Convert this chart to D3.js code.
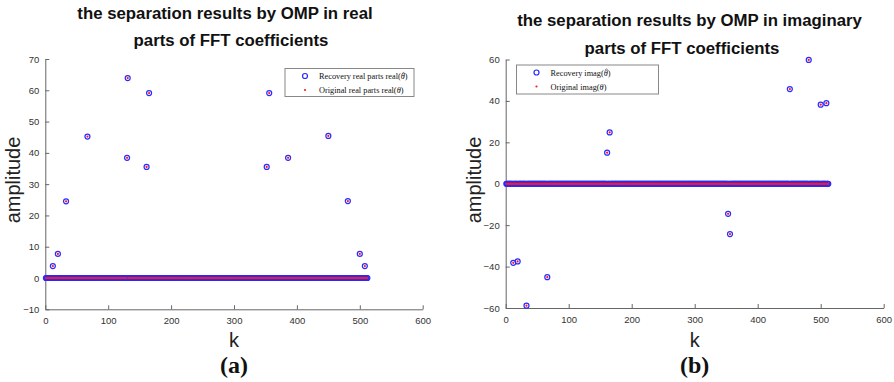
<!DOCTYPE html>
<meta charset="utf-8">
<style>
body { margin: 0; background: #fff; }
.tick text { font-family: "Liberation Sans Narrow", "Liberation Sans", Arial, sans-serif; font-size: 9.5px; fill: #333; }
.domain, .tick line { stroke: #666; }
.title { font-family: "Liberation Sans", Arial, sans-serif; font-weight: bold; font-size: 16.8px; fill: #111; }
.alabel { font-family: "Liberation Sans", Arial, sans-serif; font-size: 20px; fill: #222; }
.panel { font-family: "Liberation Serif", "Times New Roman", serif; font-weight: bold; font-size: 24px; fill: #111; }
.legend text { font-family: "Liberation Serif", "Times New Roman", serif; font-size: 8.3px; fill: #111; }
</style>
<body>
<script src="https://cdn.jsdelivr.net/npm/d3@7"></script>
<script>
var N = 512;

// nonzero FFT coefficients (k, value)
var realK = [12, 20, 33, 67, 130, 131, 161, 165, 352, 356, 386, 450, 481, 500, 508];
var realV = [3.8, 7.7, 24.5, 45.2, 38.4, 63.9, 35.5, 59.1, 35.5, 59.1, 38.4, 45.4, 24.6, 7.7, 3.8];
var imagK = [12, 19, 33, 66, 161, 165, 353, 356, 451, 481, 500, 509];
var imagV = [-38.2, -37.5, -58.9, -45.1, 15.0, 24.8, -14.5, -24.3, 45.7, 59.8, 38.2, 38.9];

var xTicks = [0, 100, 200, 300, 400, 500, 600];
var realYTicks = [-10, 0, 10, 20, 30, 40, 50, 60, 70];
var imagYTicks = [-60, -40, -20, 0, 20, 40, 60];

function fullSeries(ks, vs) {
  var s = d3.range(1, N + 1).map(function(k) { return {k: k, v: 0}; });
  ks.forEach(function(k, i) { s[k - 1].v = vs[i]; });
  return s;
}

var svg = d3.select("body").append("svg")
  .attr("width", 894)
  .attr("height", 382);

function panel(opt) {
  var x = d3.scaleLinear().domain([0, 600]).range([opt.left, opt.right]);
  var y = d3.scaleLinear().domain(opt.yDomain).range([opt.bottom, opt.top]);
  var g = svg.append("g");

  g.append("g")
    .attr("transform", "translate(0," + opt.bottom + ")")
    .call(d3.axisBottom(x).tickValues(xTicks).tickSizeInner(-4).tickSizeOuter(0).tickPadding(8));
  g.append("g")
    .attr("transform", "translate(" + opt.left + ",0)")
    .call(d3.axisLeft(y).tickValues(opt.yTicks).tickSizeInner(-4).tickSizeOuter(0).tickPadding(6));

  var data = fullSeries(opt.ks, opt.vs);

  g.append("g").selectAll("circle")
    .data(data)
    .join("circle")
    .attr("cx", function(d) { return x(d.k); })
    .attr("cy", function(d) { return y(d.v); })
    .attr("r", 2.5)
    .attr("fill", "none")
    .attr("stroke", "#2a2aff")
    .attr("stroke-width", 1.2);

  g.append("g").selectAll("circle")
    .data(data)
    .join("circle")
    .attr("cx", function(d) { return x(d.k); })
    .attr("cy", function(d) { return y(d.v); })
    .attr("r", 1.1)
    .attr("fill", "#ff1a1a");

  // legend
  var lg = g.append("g").attr("class", "legend");
  lg.append("rect")
    .attr("x", opt.leg[0]).attr("y", opt.leg[1])
    .attr("width", opt.leg[2]).attr("height", opt.leg[3])
    .attr("fill", "#fff").attr("stroke", "#888").attr("stroke-width", 1);
  var mx = opt.leg[0] + 20, tx = opt.leg[0] + 34;
  var r1 = opt.leg[1] + 7.5, r2 = opt.leg[1] + 21.5;
  lg.append("circle").attr("cx", mx).attr("cy", r1).attr("r", 2.5)
    .attr("fill", "none").attr("stroke", "#2a2aff").attr("stroke-width", 1.2);
  lg.append("circle").attr("cx", mx).attr("cy", r2).attr("r", 1.1).attr("fill", "#ff1a1a");

  [[opt.legText[0], r1, true], [opt.legText[1], r2, false]].forEach(function(row) {
    var t = lg.append("text").attr("x", tx).attr("y", row[1] + 3);
    t.append("tspan").text(row[0] + "(");
    t.append("tspan").attr("font-style", "italic").text("\u03b8");
    t.append("tspan").text(")");
    if (row[2]) {
      // hat over theta, drawn as a small stroke
      var i = row[0].length + 1;
      var p0 = t.node().getStartPositionOfChar(i);
      var p1 = t.node().getEndPositionOfChar(i);
      var hx = (p0.x + p1.x) / 2 + 0.7, hy = row[1] - 3.6;
      lg.append("path")
        .attr("d", "M" + (hx - 1.4) + "," + (hy + 1.2) + "L" + hx + "," + hy + "L" + (hx + 1.4) + "," + (hy + 1.2))
        .attr("fill", "none").attr("stroke", "#111").attr("stroke-width", 0.6);
    }
  });

  // titles and labels
  opt.title.forEach(function(t) {
    g.append("text").attr("class", "title")
      .attr("x", t[1]).attr("y", t[2]).attr("text-anchor", "middle").text(t[0]);
  });
  var cx = (opt.left + opt.right) / 2;
  g.append("text").attr("class", "alabel")
    .attr("transform", "translate(" + (opt.left - 25) + ",180) rotate(-90)")
    .attr("text-anchor", "middle").text("amplitude");
  g.append("text").attr("class", "alabel")
    .attr("x", cx).attr("y", 347).attr("text-anchor", "middle").text("k");
  g.append("text").attr("class", "panel")
    .attr("x", cx).attr("y", 373).attr("text-anchor", "middle").text(opt.panel);
}

panel({
  left: 45.3, right: 422.7, top: 59, bottom: 309.3,
  yDomain: [-10, 70], yTicks: realYTicks,
  ks: realK, vs: realV,
  leg: [285, 68.5, 129, 28],
  legText: ["Recovery real parts real", "Original real parts real"],
  title: [["the separation results by OMP in real", 225, 19], ["parts of FFT coefficients", 231, 46]],
  panel: "(a)"
});

panel({
  left: 505.7, right: 883.7, top: 59.5, bottom: 308,
  yDomain: [-60, 60], yTicks: imagYTicks,
  ks: imagK, vs: imagV,
  leg: [516.5, 65, 142, 29],
  legText: ["Recovery imag", "Original imag"],
  title: [["the separation results by OMP in imaginary", 689.5, 26], ["parts of FFT coefficients", 682, 54]],
  panel: "(b)"
});
</script>
